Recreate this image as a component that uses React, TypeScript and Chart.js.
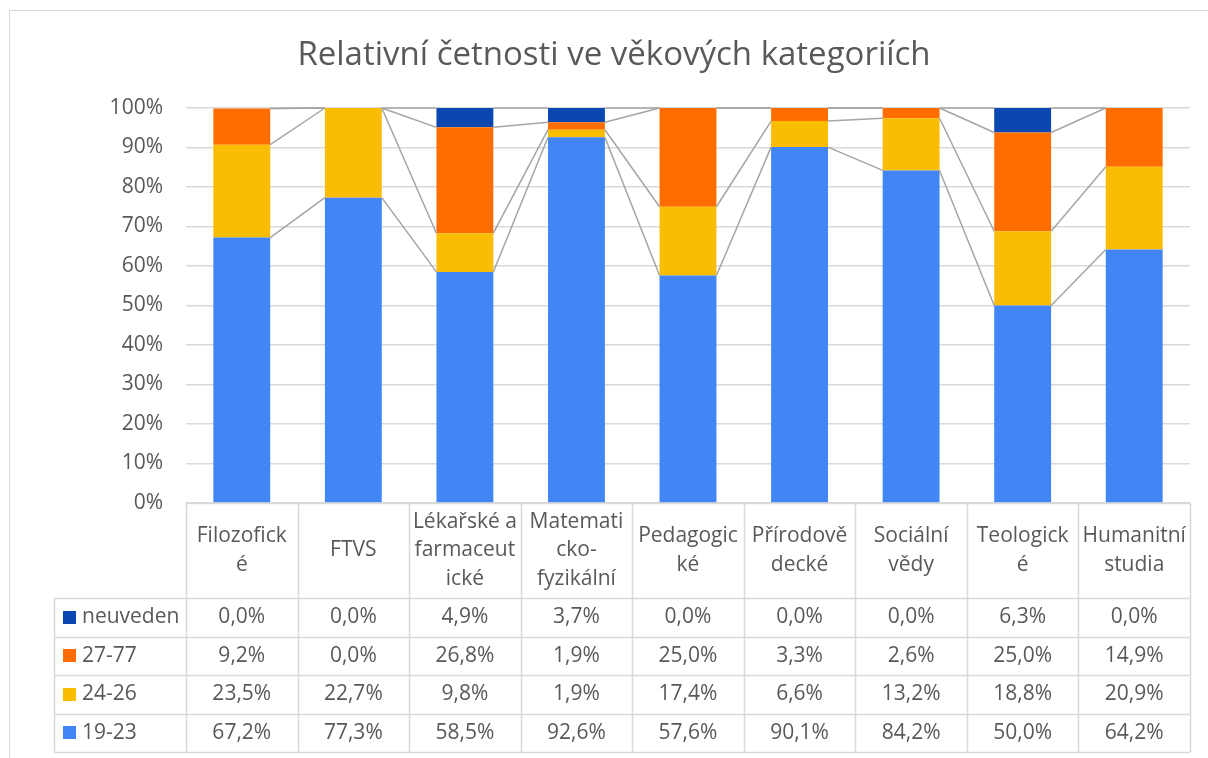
import React, { useEffect, useRef } from "react";
import { Chart, registerables } from "chart.js";

Chart.register(...registerables);

const chartTitle = "Relativní četnosti ve věkových kategoriích";
const categories: string[][] = [
  ["Filozofick", "é"],
  ["FTVS"],
  ["Lékařské a", "farmaceut", "ické"],
  ["Matemati", "cko-", "fyzikální"],
  ["Pedagogic", "ké"],
  ["Přírodově", "decké"],
  ["Sociální", "vědy"],
  ["Teologick", "é"],
  ["Humanitní", "studia"],
];
const seriesNames = ["19-23", "24-26", "27-77", "neuveden"];
const s19_23 = [67.2, 77.3, 58.5, 92.6, 57.6, 90.1, 84.2, 50.0, 64.2];
const s24_26 = [23.5, 22.7, 9.8, 1.9, 17.4, 6.6, 13.2, 18.8, 20.9];
const s27_77 = [9.2, 0.0, 26.8, 1.9, 25.0, 3.3, 2.6, 25.0, 14.9];
const sNeuveden = [0.0, 0.0, 4.9, 3.7, 0.0, 0.0, 0.0, 6.3, 0.0];
const seriesColors = ["#4285F4", "#FBBC04", "#FF6D01", "#0B47B0"];

const FONT = "'Open Sans', Lato, sans-serif";
const TEXT = "#595959";
const GRID = "#d9d9d9";
const SERIES_LINE = "#a5a5a5";
const FS = 21;

const fmt = (v: number) => v.toFixed(1).replace(".", ",") + "%";

export default function App() {
  const ref = useRef<HTMLCanvasElement>(null);

  useEffect(() => {
    const series = [s19_23, s24_26, s27_77, sNeuveden];

    const extras = {
      id: "excelExtras",
      beforeDraw(chart: any) {
        const ctx = chart.ctx;
        ctx.save();
        ctx.fillStyle = "#ffffff";
        ctx.fillRect(0, 0, chart.width, chart.height);
        ctx.strokeStyle = GRID;
        ctx.lineWidth = 1;
        ctx.strokeRect(9.5, 10.5, 1230, 780);
        ctx.fillStyle = TEXT;
        ctx.font = `33px ${FONT}`;
        ctx.textAlign = "center";
        ctx.textBaseline = "alphabetic";
        ctx.fillText(chartTitle, 614, 65);
        ctx.restore();
      },
      afterDatasetsDraw(chart: any) {
        const ctx = chart.ctx;
        const top = chart.chartArea.top;
        ctx.save();
        ctx.strokeStyle = SERIES_LINE;
        ctx.lineWidth = 1.5;
        chart.data.datasets.forEach((_: any, di: number) => {
          const meta = chart.getDatasetMeta(di);
          for (let i = 0; i < meta.data.length - 1; i++) {
            const a: any = meta.data[i];
            const b: any = meta.data[i + 1];
            ctx.beginPath();
            ctx.moveTo(a.x + a.width / 2, Math.max(top, a.y));
            ctx.lineTo(b.x - b.width / 2, Math.max(top, b.y));
            ctx.stroke();
          }
        });
        ctx.restore();
      },
      afterDraw(chart: any) {
        const ctx = chart.ctx;
        const { left, right, bottom } = chart.chartArea;
        const n = categories.length;
        const cw = (right - left) / n;
        const headerTop = bottom;
        const headerH = 95;
        const rowH = 38.5;
        const legendLeft = 54;
        const rowsTop = headerTop + headerH;
        const tableBottom = rowsTop + rowH * 4;
        const px = (v: number) => Math.round(v) + 0.5;

        ctx.save();
        ctx.strokeStyle = GRID;
        ctx.lineWidth = 1.5;
        ctx.beginPath();
        ctx.moveTo(left, px(headerTop));
        ctx.lineTo(right, px(headerTop));
        for (let r = 0; r <= 4; r++) {
          const y = px(rowsTop + r * rowH);
          ctx.moveTo(legendLeft, y);
          ctx.lineTo(right, y);
        }
        for (let k = 0; k <= n; k++) {
          const x = px(left + k * cw);
          ctx.moveTo(x, headerTop);
          ctx.lineTo(x, tableBottom);
        }
        ctx.moveTo(px(legendLeft), rowsTop);
        ctx.lineTo(px(legendLeft), tableBottom);
        ctx.stroke();

        ctx.fillStyle = TEXT;
        ctx.font = `${FS}px ${FONT}`;
        ctx.textAlign = "center";
        ctx.textBaseline = "middle";
        const lineGap = 28.7;
        const hc = headerTop + headerH / 2;
        categories.forEach((lines, i) => {
          const cx = left + (i + 0.5) * cw;
          lines.forEach((t, j) => {
            const y = hc + (j - (lines.length - 1) / 2) * lineGap;
            ctx.fillText(t, cx, y);
          });
        });

        for (let r = 0; r < 4; r++) {
          const si = 3 - r;
          const cy = rowsTop + r * rowH + rowH / 2;
          ctx.fillStyle = seriesColors[si];
          ctx.fillRect(63, Math.round(cy - 6.5), 13, 13);
          ctx.fillStyle = TEXT;
          ctx.textAlign = "left";
          ctx.fillText(seriesNames[si], 82, cy);
          ctx.textAlign = "center";
          series[si].forEach((v, i) => {
            ctx.fillText(fmt(v), left + (i + 0.5) * cw, cy);
          });
        }
        ctx.restore();
      },
    };

    const chart = new Chart(ref.current as HTMLCanvasElement, {
      type: "bar",
      data: {
        labels: categories.map((c) => c.join(" ")),
        datasets: series.map((d, i) => ({
          label: seriesNames[i],
          data: d,
          backgroundColor: seriesColors[i],
          borderWidth: 0,
          categoryPercentage: 1,
          barPercentage: 0.51,
        })),
      },
      options: {
        responsive: false,
        animation: false,
        layout: { padding: { left: 0, right: 18, top: 108, bottom: 255 } },
        plugins: {
          legend: { display: false },
          title: { display: false },
          tooltip: { enabled: false },
        },
        scales: {
          x: { stacked: true, display: false },
          y: {
            stacked: true,
            min: 0,
            max: 100,
            ticks: {
              stepSize: 10,
              callback: (v: any) => v + "%",
              color: TEXT,
              font: { family: FONT, size: FS },
              padding: 23,
            },
            grid: { color: GRID, drawTicks: false, lineWidth: 1.5 },
            border: { display: false },
            afterFit: (s: any) => {
              s.width = 186;
            },
          },
        },
      },
      plugins: [extras],
    });
    return () => chart.destroy();
  }, []);

  return (
    <div style={{ position: "absolute", left: 0, top: 0, width: 1208, height: 758 }}>
      <canvas ref={ref} width={1208} height={758} style={{ display: "block" }} />
    </div>
  );
}
